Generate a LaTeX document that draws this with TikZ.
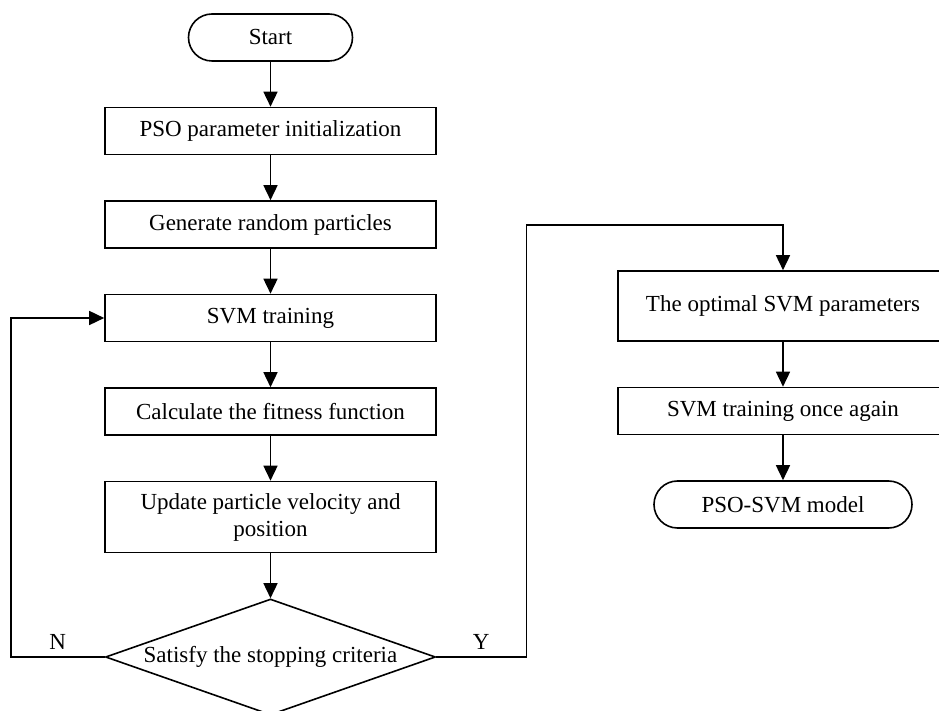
\documentclass[tikz,border=0pt]{standalone}
\usepackage{fontspec}
\setmainfont{Liberation Serif}
\usetikzlibrary{positioning}
\usetikzlibrary{arrows.meta}
\usetikzlibrary{shapes.geometric}
\def\thickness{thick}
\tikzset{
process/.style 2 args={draw, \thickness, rectangle, minimum width=#1, minimum height=#2, inner sep=0pt, align=center},
terminal/.style={draw, \thickness, rectangle, rounded corners=11.75pt, minimum width=#1, minimum height=23.5pt, inner sep=0pt},
decision/.style={draw, \thickness, diamond, aspect=2.84, minimum width=165pt, minimum height=58pt, inner sep=0pt},
flow/.style={\thickness, -{Triangle[length=7.5pt,width=7pt]}},
}
\begin{document}
\begin{tikzpicture}[x=0.5pt, y=-0.5pt, node distance=22.45pt, font=\fontsize{11.5}{13.5}\selectfont]
\useasboundingbox (0,0) rectangle (939,711);
%Place the nodes
\node[terminal=82pt] (start) at (270.5,37.5) {Start};
\node[process={165.5pt}{23.5pt}, below=of start] (init) {PSO parameter initialization};
\node[process={165.5pt}{23.5pt}, below=of init] (gen) {Generate random particles};
\node[process={165.5pt}{23.5pt}, below=of gen] (svm) {SVM training};
\node[process={165.5pt}{23.5pt}, below=of svm] (fit) {Calculate the fitness function};
\node[process={165.5pt}{35.5pt}, below=of fit] (upd) {Update particle velocity and\\position};
\node[decision, below=of upd] (stop) {Satisfy the stopping criteria};

\node[process={165pt}{35pt}] (opt) at (783,306) {The optimal SVM parameters};
\node[process={165pt}{23.5pt}, below=of opt] (again) {SVM training once again};
\node[terminal=129pt, below=of again] (model) {PSO-SVM model};

%
\draw[flow] (start) -- (init);
\draw[flow] (init) -- (gen);
\draw[flow] (gen) -- (svm);
\draw[flow] (svm) -- (fit);
\draw[flow] (fit) -- (upd);
\draw[flow] (upd) -- (stop);

%
\draw[flow] (opt) -- (again);
\draw[flow] (again) -- (model);

%
\draw[flow] (stop.west) -- ++(-94,0) node[midway, above] {N} |- (svm.west);
\draw[flow] (stop.east) -- ++(90,0) node[midway, above] {Y} -- ++(0,-432) -| (opt.north);

\end{tikzpicture}
\end{document}
